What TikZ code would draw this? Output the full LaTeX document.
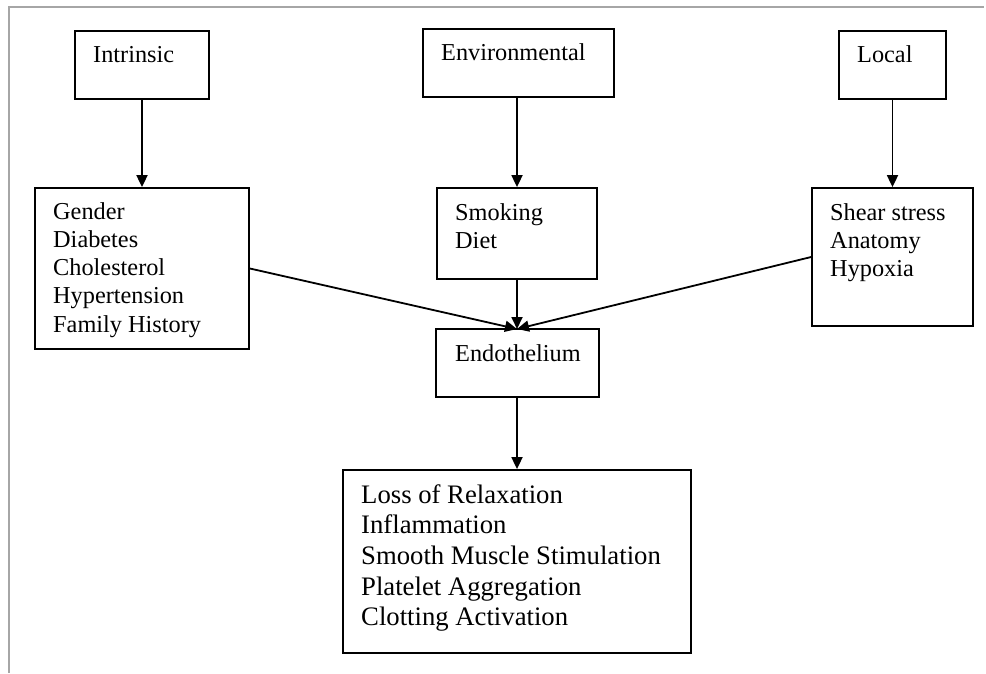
\documentclass[tikz,border=0pt]{standalone}
\usepackage{fontspec}
\setmainfont{Liberation Serif}
\usetikzlibrary{arrows.meta}
\begin{document}
\begin{tikzpicture}[x=1pt,y=-1pt,
  box/.style={draw,line width=1.8pt,rectangle,inner sep=0pt},
  txt/.style={anchor=base west,inner sep=0pt,align=left,font=\fontsize{24.3}{28.3}\selectfont},
  bigtxt/.style={anchor=base west,inner sep=0pt,align=left,font=\fontsize{26.7}{30.7}\selectfont},
  arr/.style={line width=1.8pt,-{Triangle[length=12pt,width=11pt]}}]
\useasboundingbox (0,0) rectangle (986,673);
\draw[line width=1.5pt,black!35] (9,673) -- (9,7) -- (984,7);
% boxes
\node[box,minimum width=134pt,minimum height=68pt] (intr) at (142,65) {};
\node[box,minimum width=191pt,minimum height=68pt] (env) at (518.5,63) {};
\node[box,minimum width=107pt,minimum height=68pt] (loc) at (892.5,65) {};
\node[box,minimum width=214pt,minimum height=161pt] (gen) at (142,268.5) {};
\node[box,minimum width=160pt,minimum height=91pt] (smk) at (517,233.5) {};
\node[box,minimum width=161pt,minimum height=138pt] (shr) at (892.5,257) {};
\node[box,minimum width=163pt,minimum height=68pt] (endo) at (517.5,363) {};
\node[box,minimum width=348pt,minimum height=183pt] (out) at (517,561.5) {};
% texts (anchor = baseline of the last line)
\node[txt] (tintr) at (93,62) {Intrinsic};
\node[txt] (tenv) at (441,60) {Environmental};
\node[txt] (tloc) at (857,62) {Local};
\node[txt] (tgen) at (53,332.2) {Gender\\Diabetes\\Cholesterol\\Hypertension\\Family History};
\node[txt] (tsmk) at (455,248.3) {Smoking\\Diet};
\node[txt] (tshr) at (830,276.6) {Shear stress\\Anatomy\\Hypoxia};
\node[txt] (tendo) at (455,361) {Endothelium};
\node[bigtxt] (tout) at (361,625.8) {Loss of Relaxation\\Inflammation\\Smooth Muscle Stimulation\\Platelet Aggregation\\Clotting Activation};
% connectors
\coordinate (endtop) at (517,329);
\draw[arr] (intr.south) -- (gen.north);
\draw[arr] (env.south -| smk.north) -- (smk.north);
\draw[arr] (loc.south) -- (shr.north);
\draw[arr] (gen.east) -- (endtop);
\draw[arr] (shr.west) -- (endtop);
\draw[arr] (smk.south) -- (endtop);
\draw[arr] (endo.south -| out.north) -- (out.north);
\end{tikzpicture}
\end{document}
